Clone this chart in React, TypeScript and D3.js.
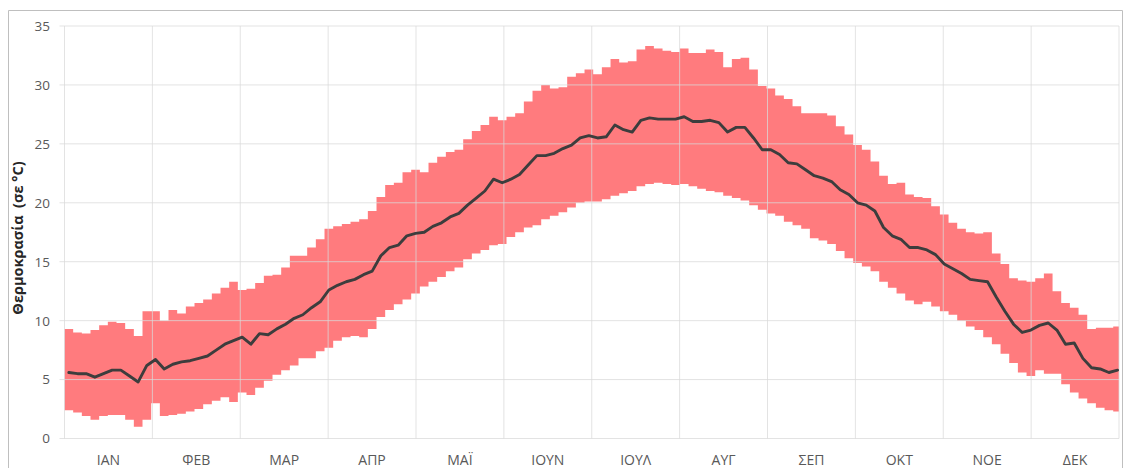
import React from "react";
import * as d3 from "d3";

// Month category labels
const months = ["ΙΑΝ", "ΦΕΒ", "ΜΑΡ", "ΑΠΡ", "ΜΑΪ", "ΙΟΥΝ", "ΙΟΥΛ", "ΑΥΓ", "ΣΕΠ", "ΟΚΤ", "ΝΟΕ", "ΔΕΚ"];
const yTicks = [0, 5, 10, 15, 20, 25, 30, 35];
const daysInYear = 365;
const chunkDays = 3; // each value below covers 3 consecutive days of the year

// Daily maximum temperature (3-day steps)
const tmax = [
  9.3, 9.0, 8.9, 9.2, 9.6, 9.9, 9.8, 9.3, 8.7, 10.8,
  10.8, 10.0, 10.9, 10.6, 11.2, 11.5, 11.8, 12.3, 12.8, 13.3,
  12.6, 12.7, 13.2, 13.8, 13.9, 14.5, 15.5, 15.5, 16.2, 16.9,
  17.8, 18.0, 18.2, 18.4, 18.6, 19.3, 20.5, 21.5, 21.7, 22.6,
  22.8, 22.6, 23.4, 23.9, 24.3, 24.5, 25.4, 26.1, 26.6, 27.3,
  27.0, 27.3, 27.6, 28.6, 29.5, 30.0, 29.7, 29.8, 30.7, 31.0,
  31.3, 30.9, 31.5, 32.2, 31.9, 32.0, 33.0, 33.3, 33.1, 32.9,
  32.8, 33.1, 32.7, 32.7, 33.0, 32.8, 31.5, 32.2, 32.3, 31.3,
  29.9, 29.7, 29.1, 28.8, 28.2, 27.6, 27.6, 27.6, 27.4, 26.5,
  25.8, 24.9, 24.5, 23.5, 22.3, 21.6, 21.7, 20.7, 20.5, 20.4,
  19.7, 19.0, 18.3, 17.8, 17.5, 17.4, 17.5, 15.7, 14.8, 13.6,
  13.4, 13.3, 13.6, 14.0, 12.5, 11.5, 11.1, 10.5, 9.3, 9.4,
  9.4, 9.5,
];

// Daily minimum temperature
const tmin = [
  2.4, 2.2, 1.9, 1.6, 1.9, 2.0, 2.0, 1.6, 1.0, 1.6,
  3.0, 1.9, 2.0, 2.1, 2.3, 2.5, 2.9, 3.2, 3.5, 3.1,
  3.9, 3.7, 4.3, 4.9, 5.4, 5.8, 6.2, 6.8, 6.8, 7.4,
  7.7, 8.3, 8.6, 8.7, 8.6, 9.3, 10.3, 10.9, 11.4, 11.8,
  12.3, 12.9, 13.3, 13.7, 14.2, 14.5, 15.2, 15.7, 16.0, 16.4,
  16.5, 17.1, 17.5, 17.9, 18.1, 18.6, 18.9, 19.2, 19.6, 20.0,
  20.1, 20.1, 20.3, 20.6, 20.8, 21.0, 21.4, 21.6, 21.7, 21.6,
  21.5, 21.6, 21.4, 21.2, 21.0, 20.9, 20.6, 20.4, 20.2, 19.8,
  19.4, 19.1, 18.9, 18.4, 18.1, 17.8, 17.0, 16.8, 16.5, 15.9,
  15.3, 14.9, 14.6, 14.2, 13.3, 12.8, 12.3, 11.7, 11.4, 11.6,
  11.2, 10.8, 10.5, 10.0, 9.5, 9.2, 8.6, 8.0, 7.2, 6.4,
  5.6, 5.3, 5.8, 5.5, 5.5, 4.6, 3.9, 3.4, 3.0, 2.6,
  2.4, 2.3,
];

// Daily mean temperature
const tmean = [
  5.6, 5.5, 5.5, 5.2, 5.5, 5.8, 5.8, 5.3, 4.8, 6.2,
  6.7, 5.9, 6.3, 6.5, 6.6, 6.8, 7.0, 7.5, 8.0, 8.3,
  8.6, 8.0, 8.9, 8.8, 9.3, 9.7, 10.2, 10.5, 11.1, 11.6,
  12.6, 13.0, 13.3, 13.5, 13.9, 14.2, 15.5, 16.2, 16.4, 17.2,
  17.4, 17.5, 18.0, 18.3, 18.8, 19.1, 19.8, 20.4, 21.0, 22.0,
  21.7, 22.0, 22.4, 23.2, 24.0, 24.0, 24.2, 24.6, 24.9, 25.5,
  25.7, 25.5, 25.6, 26.6, 26.2, 26.0, 27.0, 27.2, 27.1, 27.1,
  27.1, 27.3, 26.9, 26.9, 27.0, 26.8, 26.0, 26.4, 26.4, 25.5,
  24.5, 24.5, 24.1, 23.4, 23.3, 22.8, 22.3, 22.1, 21.8, 21.1,
  20.7, 20.0, 19.8, 19.3, 17.9, 17.2, 16.9, 16.2, 16.2, 16.0,
  15.6, 14.8, 14.4, 14.0, 13.5, 13.4, 13.3, 12.0, 10.8, 9.7,
  9.0, 9.2, 9.6, 9.8, 9.2, 8.0, 8.1, 6.8, 6.0, 5.9,
  5.6, 5.8,
];

const W = 1123;
const H = 468;
const plotLeft = 64.5;
const plotRight = 1119;
const plotTop = 26;
const plotBottom = 438.5;

export default function App() {
  const x = d3.scaleLinear().domain([0, daysInYear]).range([plotLeft, plotRight]);
  const y = d3.scaleLinear().domain([0, 35]).range([plotBottom, plotTop]);
  const xm = d3.scaleBand<string>().domain(months).range([plotLeft, plotRight]).padding(0);

  type P = { d: number; lo: number; hi: number };
  const bandPts: P[] = tmax.map((hi, i) => ({ d: i * chunkDays, lo: tmin[i], hi }));
  bandPts.push({ d: daysInYear, lo: tmin[tmin.length - 1], hi: tmax[tmax.length - 1] });

  const area = d3
    .area<P>()
    .x((p) => x(p.d))
    .y0((p) => y(p.lo))
    .y1((p) => y(p.hi))
    .curve(d3.curveStepAfter);

  const meanPts = tmean.map((v, i) => ({ d: Math.min(i * chunkDays + 1.5, daysInYear - 0.5), v }));
  const line = d3
    .line<{ d: number; v: number }>()
    .x((p) => x(p.d))
    .y((p) => y(p.v))
    .curve(d3.curveLinear);

  const font = "'Open Sans', 'Noto Sans', sans-serif";
  const gridColor = "#d9d9d9";

  return (
    <div style={{ position: "absolute", left: 0, top: 0 }}>
      <svg width={W} height={H} style={{ display: "block", background: "#fff" }}>
        {/* frame */}
        <path d={`M8.5,${H + 2} V10.5 H1122.5 V${H + 2}`} fill="none" stroke="#bfbfbf" strokeWidth={1} />

        {/* band */}
        <path d={area(bandPts) || ""} fill="#ff7b7e" />

        {/* horizontal gridlines */}
        {yTicks.map((t) => (
          <g key={"h" + t}>
            <line x1={plotLeft - 5} x2={plotRight} y1={y(t)} y2={y(t)} stroke={gridColor} strokeOpacity={0.75} strokeWidth={1} />
            <text x={50} y={y(t)} dy="0.36em" textAnchor="end" fontFamily={font} fontSize={13.5} fill="#595959">
              {t}
            </text>
          </g>
        ))}

        {/* vertical gridlines at month boundaries */}
        {months.map((m) => (
          <line key={"v" + m} x1={xm(m)!} x2={xm(m)!} y1={plotTop} y2={plotBottom} stroke={gridColor} strokeOpacity={0.75} strokeWidth={1} />
        ))}
        <line x1={plotRight} x2={plotRight} y1={plotTop} y2={plotBottom} stroke={gridColor} strokeOpacity={0.75} />

        {/* mean line */}
        <path d={line(meanPts) || ""} fill="none" stroke="#3d3d3d" strokeWidth={2.9} strokeLinejoin="round" strokeLinecap="round" />

        {/* month labels */}
        {months.map((m) => (
          <text key={"t" + m} x={xm(m)! + xm.bandwidth() / 2} y={465} textAnchor="middle" fontFamily={font} fontSize={14} fill="#595959">
            {m}
          </text>
        ))}

        {/* y axis title */}
        <text
          transform={`translate(23,${238}) rotate(-90)`}
          textAnchor="middle"
          fontFamily={font}
          fontSize={14.5}
          fontWeight="bold"
          fill="#262626"
          style={{ whiteSpace: "pre" }}
        >
          {"Θερμοκρασία  (σε °C)"}
        </text>
      </svg>
    </div>
  );
}
